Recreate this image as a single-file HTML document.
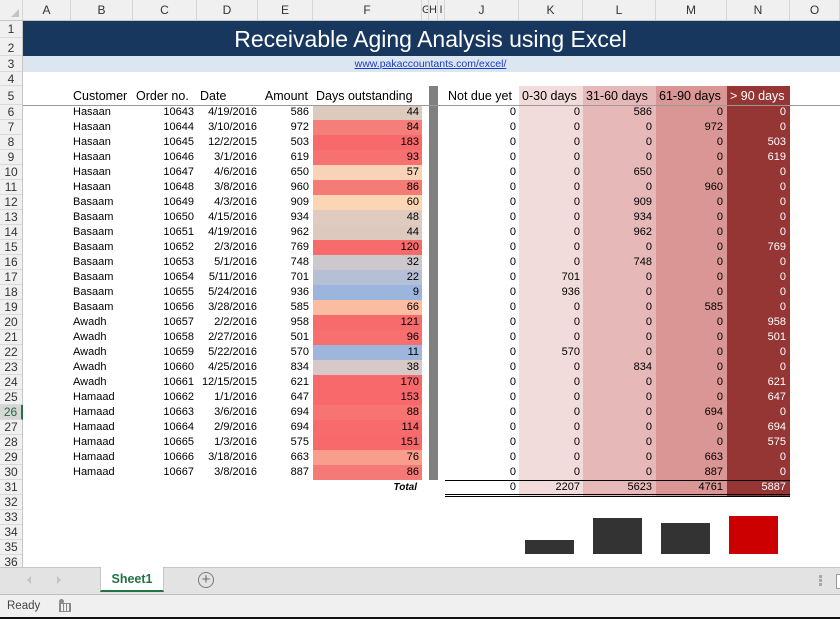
<!DOCTYPE html>
<html><head><meta charset="utf-8">
<style>
*{margin:0;padding:0;box-sizing:border-box}
html,body{width:840px;height:619px;overflow:hidden;background:#fff;font-family:"Liberation Sans",Arial,sans-serif;position:relative}
.abs{position:absolute}
#colhdr{position:absolute;left:0;top:0;width:840px;height:21px;background:#f0f0f0;border-bottom:1px solid #c6c6c6;display:flex}
#colhdr div{height:20px;line-height:21px;text-align:center;font-size:12px;color:#333;border-right:1px solid #d6d6d6;flex:none;overflow:hidden}
#rowhdr{position:absolute;left:0;top:21px;width:23px;height:546px;background:#f0f0f0;border-right:1px solid #c6c6c6}
#rowhdr div{width:22px;text-align:center;font-size:12px;color:#333;border-bottom:1px solid #dadada;overflow:hidden}
#rowhdr div.sel{background:#d6d6d6;color:#1e6b3d;border-right:2px solid #217346}
table{position:absolute;left:23px;top:86px;border-collapse:collapse;table-layout:fixed;font-size:11px;color:#000}
td{padding:0;white-space:nowrap;overflow:hidden;line-height:15px;height:15px;vertical-align:middle}
tr.h5 td{height:19px;font-size:12.5px;vertical-align:bottom;line-height:18px}
td.b{padding-left:2px}
td.l3{padding-left:3px}
td.r{text-align:right;padding-right:3px}
td.r4{text-align:right;padding-right:4px}
td.d{text-align:right;padding-right:1px}
td.g{background:#808080}
td.k{background:#f2dcdb}
td.lc{background:#e6b9b8}
td.m{background:#da9694}
td.n{background:#963634;color:#fff}
tr.t td{height:17px;vertical-align:top}
</style></head><body>

<div id="colhdr">
<div style="width:23px;position:relative"><span style="position:absolute;right:3px;bottom:3px;width:0;height:0;border-left:8px solid transparent;border-bottom:8px solid #c3c3c3"></span></div>
<div style="width:48px">A</div>
<div style="width:62px">B</div>
<div style="width:64px">C</div>
<div style="width:61px">D</div>
<div style="width:55px">E</div>
<div style="width:109px">F</div>
<div style="width:7px;font-size:11px">G</div>
<div style="width:9px;font-size:11px">H</div>
<div style="width:7px;font-size:11px">I</div>
<div style="width:74px">J</div>
<div style="width:64px">K</div>
<div style="width:73px">L</div>
<div style="width:71px">M</div>
<div style="width:63px">N</div>
<div style="width:50px">O</div>
</div>

<div id="rowhdr">
<div style="height:17px;line-height:17px">1</div>
<div style="height:18px;line-height:20px">2</div>
<div style="height:16px;line-height:16px">3</div>
<div style="height:14px;line-height:14px">4</div>
<div style="height:19px;line-height:21px">5</div>
<div style="height:15px;line-height:15px">6</div>
<div style="height:15px;line-height:15px">7</div>
<div style="height:15px;line-height:15px">8</div>
<div style="height:15px;line-height:15px">9</div>
<div style="height:15px;line-height:15px">10</div>
<div style="height:15px;line-height:15px">11</div>
<div style="height:15px;line-height:15px">12</div>
<div style="height:15px;line-height:15px">13</div>
<div style="height:15px;line-height:15px">14</div>
<div style="height:15px;line-height:15px">15</div>
<div style="height:15px;line-height:15px">16</div>
<div style="height:15px;line-height:15px">17</div>
<div style="height:15px;line-height:15px">18</div>
<div style="height:15px;line-height:15px">19</div>
<div style="height:15px;line-height:15px">20</div>
<div style="height:15px;line-height:15px">21</div>
<div style="height:15px;line-height:15px">22</div>
<div style="height:15px;line-height:15px">23</div>
<div style="height:15px;line-height:15px">24</div>
<div style="height:15px;line-height:15px">25</div>
<div class="sel" style="height:15px;line-height:15px;width:23px">26</div>
<div style="height:15px;line-height:15px">27</div>
<div style="height:15px;line-height:15px">28</div>
<div style="height:15px;line-height:15px">29</div>
<div style="height:15px;line-height:15px">30</div>
<div style="height:15px;line-height:15px">31</div>
<div style="height:15px;line-height:15px">32</div>
<div style="height:15px;line-height:15px">33</div>
<div style="height:15px;line-height:15px">34</div>
<div style="height:15px;line-height:15px">35</div>
<div style="height:15px;line-height:15px">36</div>
</div>

<!-- Title band -->
<div class="abs" style="left:23px;top:21px;width:817px;height:35px;background:#17375e"></div>
<div class="abs" style="left:130px;top:22px;width:601px;height:35px;line-height:35px;text-align:center;color:#fff;font-size:23px">Receivable Aging Analysis using Excel</div>
<div class="abs" style="left:23px;top:56px;width:817px;height:16px;background:#dce6f1"></div>
<div class="abs" style="left:230px;top:56px;width:401px;height:16px;line-height:16px;text-align:center;font-size:10.5px;color:#1a3cc8;"><span style="text-decoration:underline">www.pakaccountants.com/excel/</span></div>

<table>
<colgroup>
<col style="width:48px"><col style="width:62px"><col style="width:64px"><col style="width:61px"><col style="width:55px"><col style="width:109px"><col style="width:7px"><col style="width:9px"><col style="width:7px"><col style="width:74px"><col style="width:64px"><col style="width:73px"><col style="width:71px"><col style="width:63px"><col style="width:50px">
</colgroup>
<tr class="h5"><td></td><td class="b">Customer</td><td class="l3">Order no.</td><td class="l3">Date</td><td class="r" style="padding-right:5px">Amount</td><td class="l3">Days outstanding</td><td></td><td class="g"></td><td></td><td class="l3">Not due yet</td><td class="l3 k">0-30 days</td><td class="l3 lc">31-60 days</td><td class="l3 m">61-90 days</td><td class="l3 n">&gt; 90 days</td><td></td></tr>
<tr><td></td><td class="b">Hasaan</td><td class="r">10643</td><td class="d">4/19/2016</td><td class="r4">586</td><td class="r" style="background:#dccabf">44</td><td></td><td class="g"></td><td></td><td class="r">0</td><td class="r k">0</td><td class="r4 lc">586</td><td class="r4 m">0</td><td class="r4 n">0</td><td></td></tr>
<tr><td></td><td class="b">Hasaan</td><td class="r">10644</td><td class="d">3/10/2016</td><td class="r4">972</td><td class="r" style="background:#f47e79">84</td><td></td><td class="g"></td><td></td><td class="r">0</td><td class="r k">0</td><td class="r4 lc">0</td><td class="r4 m">972</td><td class="r4 n">0</td><td></td></tr>
<tr><td></td><td class="b">Hasaan</td><td class="r">10645</td><td class="d">12/2/2015</td><td class="r4">503</td><td class="r" style="background:#f8696b">183</td><td></td><td class="g"></td><td></td><td class="r">0</td><td class="r k">0</td><td class="r4 lc">0</td><td class="r4 m">0</td><td class="r4 n">503</td><td></td></tr>
<tr><td></td><td class="b">Hasaan</td><td class="r">10646</td><td class="d">3/1/2016</td><td class="r4">619</td><td class="r" style="background:#f6716f">93</td><td></td><td class="g"></td><td></td><td class="r">0</td><td class="r k">0</td><td class="r4 lc">0</td><td class="r4 m">0</td><td class="r4 n">619</td><td></td></tr>
<tr><td></td><td class="b">Hasaan</td><td class="r">10647</td><td class="d">4/6/2016</td><td class="r4">650</td><td class="r" style="background:#f9d3b8">57</td><td></td><td class="g"></td><td></td><td class="r">0</td><td class="r k">0</td><td class="r4 lc">650</td><td class="r4 m">0</td><td class="r4 n">0</td><td></td></tr>
<tr><td></td><td class="b">Hasaan</td><td class="r">10648</td><td class="d">3/8/2016</td><td class="r4">960</td><td class="r" style="background:#f57b77">86</td><td></td><td class="g"></td><td></td><td class="r">0</td><td class="r k">0</td><td class="r4 lc">0</td><td class="r4 m">960</td><td class="r4 n">0</td><td></td></tr>
<tr><td></td><td class="b">Basaam</td><td class="r">10649</td><td class="d">4/3/2016</td><td class="r4">909</td><td class="r" style="background:#fbd5b4">60</td><td></td><td class="g"></td><td></td><td class="r">0</td><td class="r k">0</td><td class="r4 lc">909</td><td class="r4 m">0</td><td class="r4 n">0</td><td></td></tr>
<tr><td></td><td class="b">Basaam</td><td class="r">10650</td><td class="d">4/15/2016</td><td class="r4">934</td><td class="r" style="background:#dfcbc0">48</td><td></td><td class="g"></td><td></td><td class="r">0</td><td class="r k">0</td><td class="r4 lc">934</td><td class="r4 m">0</td><td class="r4 n">0</td><td></td></tr>
<tr><td></td><td class="b">Basaam</td><td class="r">10651</td><td class="d">4/19/2016</td><td class="r4">962</td><td class="r" style="background:#dccabf">44</td><td></td><td class="g"></td><td></td><td class="r">0</td><td class="r k">0</td><td class="r4 lc">962</td><td class="r4 m">0</td><td class="r4 n">0</td><td></td></tr>
<tr><td></td><td class="b">Basaam</td><td class="r">10652</td><td class="d">2/3/2016</td><td class="r4">769</td><td class="r" style="background:#f86b6c">120</td><td></td><td class="g"></td><td></td><td class="r">0</td><td class="r k">0</td><td class="r4 lc">0</td><td class="r4 m">0</td><td class="r4 n">769</td><td></td></tr>
<tr><td></td><td class="b">Basaam</td><td class="r">10653</td><td class="d">5/1/2016</td><td class="r4">748</td><td class="r" style="background:#cdc8cb">32</td><td></td><td class="g"></td><td></td><td class="r">0</td><td class="r k">0</td><td class="r4 lc">748</td><td class="r4 m">0</td><td class="r4 n">0</td><td></td></tr>
<tr><td></td><td class="b">Basaam</td><td class="r">10654</td><td class="d">5/11/2016</td><td class="r4">701</td><td class="r" style="background:#b5c0d6">22</td><td></td><td class="g"></td><td></td><td class="r">0</td><td class="r k">701</td><td class="r4 lc">0</td><td class="r4 m">0</td><td class="r4 n">0</td><td></td></tr>
<tr><td></td><td class="b">Basaam</td><td class="r">10655</td><td class="d">5/24/2016</td><td class="r4">936</td><td class="r" style="background:#9cb5dc">9</td><td></td><td class="g"></td><td></td><td class="r">0</td><td class="r k">936</td><td class="r4 lc">0</td><td class="r4 m">0</td><td class="r4 n">0</td><td></td></tr>
<tr><td></td><td class="b">Basaam</td><td class="r">10656</td><td class="d">3/28/2016</td><td class="r4">585</td><td class="r" style="background:#fbbca2">66</td><td></td><td class="g"></td><td></td><td class="r">0</td><td class="r k">0</td><td class="r4 lc">0</td><td class="r4 m">585</td><td class="r4 n">0</td><td></td></tr>
<tr><td></td><td class="b">Awadh</td><td class="r">10657</td><td class="d">2/2/2016</td><td class="r4">958</td><td class="r" style="background:#f86b6c">121</td><td></td><td class="g"></td><td></td><td class="r">0</td><td class="r k">0</td><td class="r4 lc">0</td><td class="r4 m">0</td><td class="r4 n">958</td><td></td></tr>
<tr><td></td><td class="b">Awadh</td><td class="r">10658</td><td class="d">2/27/2016</td><td class="r4">501</td><td class="r" style="background:#f7706f">96</td><td></td><td class="g"></td><td></td><td class="r">0</td><td class="r k">0</td><td class="r4 lc">0</td><td class="r4 m">0</td><td class="r4 n">501</td><td></td></tr>
<tr><td></td><td class="b">Awadh</td><td class="r">10659</td><td class="d">5/22/2016</td><td class="r4">570</td><td class="r" style="background:#9eb6db">11</td><td></td><td class="g"></td><td></td><td class="r">0</td><td class="r k">570</td><td class="r4 lc">0</td><td class="r4 m">0</td><td class="r4 n">0</td><td></td></tr>
<tr><td></td><td class="b">Awadh</td><td class="r">10660</td><td class="d">4/25/2016</td><td class="r4">834</td><td class="r" style="background:#d6c9c7">38</td><td></td><td class="g"></td><td></td><td class="r">0</td><td class="r k">0</td><td class="r4 lc">834</td><td class="r4 m">0</td><td class="r4 n">0</td><td></td></tr>
<tr><td></td><td class="b">Awadh</td><td class="r">10661</td><td class="d">12/15/2015</td><td class="r4">621</td><td class="r" style="background:#f8696b">170</td><td></td><td class="g"></td><td></td><td class="r">0</td><td class="r k">0</td><td class="r4 lc">0</td><td class="r4 m">0</td><td class="r4 n">621</td><td></td></tr>
<tr><td></td><td class="b">Hamaad</td><td class="r">10662</td><td class="d">1/1/2016</td><td class="r4">647</td><td class="r" style="background:#f8696b">153</td><td></td><td class="g"></td><td></td><td class="r">0</td><td class="r k">0</td><td class="r4 lc">0</td><td class="r4 m">0</td><td class="r4 n">647</td><td></td></tr>
<tr><td></td><td class="b">Hamaad</td><td class="r">10663</td><td class="d">3/6/2016</td><td class="r4">694</td><td class="r" style="background:#f77473">88</td><td></td><td class="g"></td><td></td><td class="r">0</td><td class="r k">0</td><td class="r4 lc">0</td><td class="r4 m">694</td><td class="r4 n">0</td><td></td></tr>
<tr><td></td><td class="b">Hamaad</td><td class="r">10664</td><td class="d">2/9/2016</td><td class="r4">694</td><td class="r" style="background:#f86b6c">114</td><td></td><td class="g"></td><td></td><td class="r">0</td><td class="r k">0</td><td class="r4 lc">0</td><td class="r4 m">0</td><td class="r4 n">694</td><td></td></tr>
<tr><td></td><td class="b">Hamaad</td><td class="r">10665</td><td class="d">1/3/2016</td><td class="r4">575</td><td class="r" style="background:#f8696b">151</td><td></td><td class="g"></td><td></td><td class="r">0</td><td class="r k">0</td><td class="r4 lc">0</td><td class="r4 m">0</td><td class="r4 n">575</td><td></td></tr>
<tr><td></td><td class="b">Hamaad</td><td class="r">10666</td><td class="d">3/18/2016</td><td class="r4">663</td><td class="r" style="background:#f99d8c">76</td><td></td><td class="g"></td><td></td><td class="r">0</td><td class="r k">0</td><td class="r4 lc">0</td><td class="r4 m">663</td><td class="r4 n">0</td><td></td></tr>
<tr><td></td><td class="b">Hamaad</td><td class="r">10667</td><td class="d">3/8/2016</td><td class="r4">887</td><td class="r" style="background:#f57a77">86</td><td></td><td class="g"></td><td></td><td class="r">0</td><td class="r k">0</td><td class="r4 lc">0</td><td class="r4 m">887</td><td class="r4 n">0</td><td></td></tr>
<tr class="t"><td></td><td></td><td></td><td></td><td></td><td class="r" style="font-weight:bold;font-style:italic;font-size:10px;padding-right:5px;line-height:16px">Total</td><td></td><td></td><td></td><td class="r">0</td><td class="r k">2207</td><td class="r4 lc">5623</td><td class="r4 m">4761</td><td class="r4 n">5887</td><td></td></tr>
</table>

<!-- line under headers -->
<div class="abs" style="left:23px;top:105px;width:817px;height:1px;background:#9a9a9a"></div>
<!-- total borders -->
<div class="abs" style="left:445px;top:480px;width:345px;height:1px;background:#000"></div>
<div class="abs" style="left:445px;top:494px;width:345px;height:1px;background:#000"></div>
<div class="abs" style="left:445px;top:496px;width:345px;height:1px;background:#000"></div>

<!-- mini bars -->
<div class="abs" style="left:525px;top:540px;width:49px;height:14px;background:#333"></div>
<div class="abs" style="left:593px;top:518px;width:49px;height:36px;background:#333"></div>
<div class="abs" style="left:661px;top:523px;width:49px;height:31px;background:#333"></div>
<div class="abs" style="left:729px;top:516px;width:49px;height:38px;background:#cc0000"></div>

<!-- tab bar -->
<div class="abs" style="left:0;top:567px;width:840px;height:28px;background:#e3e3e3;border-top:1px solid #c6c6c6;border-bottom:1px solid #c0c0c0"></div>
<div class="abs" style="left:27px;top:576px;width:0;height:0;border-top:4px solid transparent;border-bottom:4px solid transparent;border-right:4px solid #c4c4c4"></div>
<div class="abs" style="left:57px;top:576px;width:0;height:0;border-top:4px solid transparent;border-bottom:4px solid transparent;border-left:4px solid #c4c4c4"></div>
<div class="abs" style="left:100px;top:567px;width:64px;height:25px;background:#fff;border-left:1px solid #c6c6c6;border-right:1px solid #c6c6c6;border-bottom:2px solid #217346;text-align:center;line-height:24px;font-size:12.5px;font-weight:bold;color:#217346">Sheet1</div>
<div class="abs" style="left:198px;top:572px;width:16px;height:16px;border:1.5px solid #7a7a7a;border-radius:50%;text-align:center;line-height:13px;font-size:15px;color:#6a6a6a">+</div>
<div class="abs" style="left:819px;top:575px;width:3px;height:3px;background:#a8a8a8"></div>
<div class="abs" style="left:819px;top:579px;width:3px;height:3px;background:#a8a8a8"></div>
<div class="abs" style="left:819px;top:583px;width:3px;height:3px;background:#a8a8a8"></div>
<div class="abs" style="left:836px;top:574px;width:8px;height:15px;border:1px solid #9a9a9a;background:#fff"></div>

<!-- status bar -->
<div class="abs" style="left:0;top:595px;width:840px;height:22px;background:#f0f0f0"></div>
<div class="abs" style="left:7px;top:597px;height:18px;line-height:18px;font-size:11.5px;color:#444">Ready</div>
<div class="abs" style="left:59px;top:599px;width:5px;height:5px;border-radius:50%;background:#8a8a8a"></div>
<div class="abs" style="left:59px;top:603px;width:12px;height:9px;border:1px solid #8a8a8a;background:repeating-linear-gradient(90deg,#8a8a8a 0 1px,transparent 1px 3px)"></div>
<div class="abs" style="left:0;top:617px;width:840px;height:2px;background:#111"></div>
</body></html>
